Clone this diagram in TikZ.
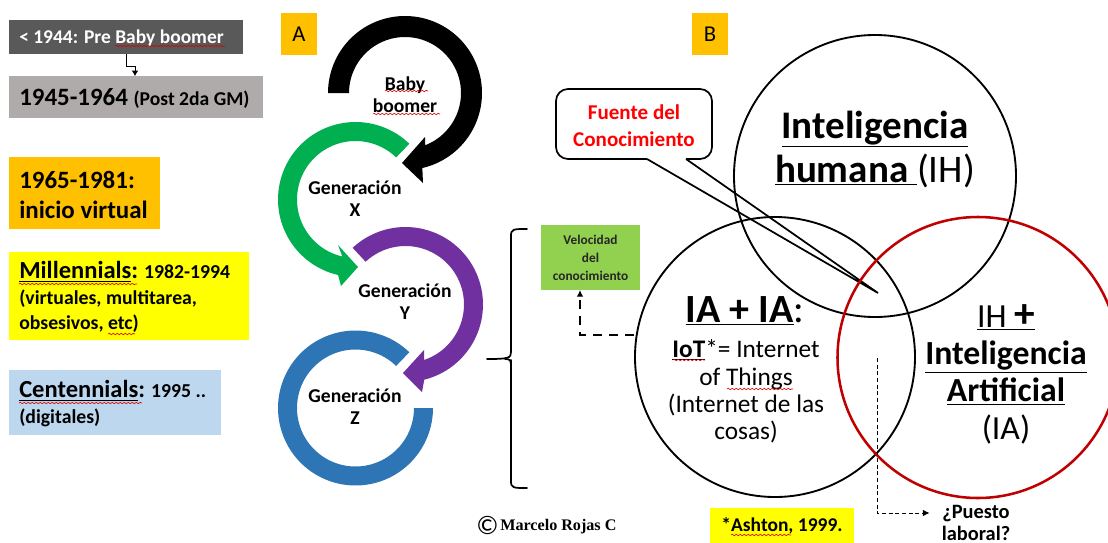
\documentclass[tikz,border=0pt]{standalone}
\usepackage{fontspec}
\setmainfont{Carlito}
\newfontfamily\serifb{Liberation Serif}
\usetikzlibrary{arrows.meta,decorations.pathmorphing,calc}
\definecolor{gold}{HTML}{FFC000}
\definecolor{dgrey}{HTML}{595959}
\definecolor{lgrey}{HTML}{AFABAB}
\definecolor{lblue}{HTML}{BDD7EE}
\definecolor{lgreen}{HTML}{92D050}
\definecolor{cgreen}{HTML}{00B050}
\definecolor{cpurple}{HTML}{7030A0}
\definecolor{cblue}{HTML}{2E75B6}
\definecolor{dred}{HTML}{C00000}
\definecolor{pureyellow}{HTML}{FFFF00}
\definecolor{purered}{HTML}{FF0000}
\tikzset{
 lbl/.style={inner sep=0pt,align=center,font=\bfseries,text=black},
 box/.style={inner sep=0pt,outer sep=0pt,anchor=north west},
 wavy/.style={draw=purered!85!black,line width=.45pt,decorate,decoration={snake,amplitude=.55pt,segment length=3pt}},
 circ/.style={draw=black,line width=1.4pt,circle,inner sep=0pt,outer sep=0pt,minimum size=#1*.75pt},
 conn/.style={draw=black,line width=1pt},
}
% \ringarrow{colour}{cx}{cy}{router}{rinner}{from}{to}{middle path}
\newcommand{\ringarrow}[8]{\fill[#1] plot[domain=#6:#7,samples=70,smooth] ({#2+#4*cos(\x)},{#3+#4*sin(\x)}) #8 -- plot[domain=#7:#6,samples=70,smooth] ({#2+#5*cos(\x)},{#3+#5*sin(\x)}) -- cycle;}
\newcommand{\fs}[2]{\fontsize{#1}{#2}\selectfont}
\begin{document}
\begin{tikzpicture}[x=.75pt,y=-.75pt]
\useasboundingbox (0,0) rectangle (1108,543);
% left boxes
\node[box,fill=dgrey,minimum width=234*.75pt,minimum height=34*.75pt] (b1) at (9,20) {};
\node[lbl,anchor=west,text=white,font=\bfseries\fs{14.6}{16}] (t1) at (19,38.5) {< 1944: Pre Baby boomer};
\draw[wavy] (115,46) -- (225,46);
\node[box,fill=lgrey,minimum width=254*.75pt,minimum height=42*.75pt] (b2) at (9,76) {};
\node[lbl,anchor=west,font=\bfseries\fs{18.7}{20}] (t2) at (19,98) {1945-1964 {\fs{14.7}{16}(Post 2da GM)}};
\coordinate (c1) at (126,60);
\coordinate (c2) at (135,60);
\draw[conn,line width=.7pt,-{Latex[length=4pt,width=5pt]}] (b1.south -| c1) -- (126,66) -- (135,66) -- (b2.north -| c2);
\node[box,fill=gold,minimum width=151*.75pt,minimum height=72*.75pt] (b3) at (9,157) {};
\node[lbl,anchor=west,align=left,font=\bfseries\fs{18.7}{22.5}] (t3) at (19,195) {1965-1981:\\inicio virtual};
\node[box,fill=pureyellow,minimum width=240*.75pt,minimum height=88*.75pt] (b4) at (9,252) {};
\node[lbl,anchor=west,align=left,font=\bfseries\fs{14.8}{19}] (t4) at (19,297) {{\fs{18.4}{19}\underline{Millennials}:} 1982-1994\\(virtuales, multitarea,\\obsesivos, etc)};
\draw[wavy] (19,284) -- (137,284);
\draw[wavy] (108,334) -- (135,334);
\node[box,fill=lblue,minimum width=212*.75pt,minimum height=65*.75pt] (b5) at (9,370) {};
\node[lbl,anchor=west,align=left,font=\bfseries\fs{14.8}{19.5}] (t5) at (19,404) {{\fs{18.4}{19.5}\underline{Centennials}:} 1995 ..\\(digitales)};
\draw[wavy] (19,403) -- (142,403);
\node[box,fill=gold,minimum width=36*.75pt,minimum height=42*.75pt] (A) at (281,13) {};
\node[inner sep=0pt,font=\fs{17}{18}] at (A.center) {A};
\node[box,fill=gold,minimum width=36*.75pt,minimum height=42*.75pt] (B) at (692,13) {};
\node[inner sep=0pt,font=\fs{17}{18}] at (B.center) {B};
% rings
\ringarrow{black}{405}{93}{77}{56}{180}{437}{-- (423,183) -- (402,163) -- (425,137) -- (425,150)}
\ringarrow{cgreen}{355.5}{199.5}{77.5}{58.5}{314}{103}{-- (341,286) -- (358,267) -- (338,245) -- (342.3,256.5)}
\ringarrow{cpurple}{405.5}{304.5}{77.5}{58.5}{227}{436}{-- (422,392) -- (403,373) -- (424,350) -- (424,360)}
\ringarrow{cblue}{355.5}{408}{77.5}{58.5}{0}{314}{}
\node[lbl,font=\bfseries\fs{14.7}{16.5}] (g0) at (405,95) {Baby\\boomer};
\draw[wavy] (385,91) -- (428,91);
\draw[wavy] (373,114) -- (440,114);
\node[lbl,font=\bfseries\fs{14.7}{16.5}] (g1) at (355,199) {Generación\\X};
\node[lbl,font=\bfseries\fs{14.7}{16.5}] (g2) at (405,302) {Generación\\Y};
\node[lbl,font=\bfseries\fs{14.7}{16.5}] (g3) at (355,407) {Generación\\Z};
% bracket
\draw[black,line width=1.3pt,line cap=round] (527,229) .. controls (513,229) and (511,229) .. (511,236) -- (511,352) .. controls (511,358) and (509,359) .. (487,359);
\draw[black,line width=1.3pt,line cap=round] (511,366) .. controls (511,360) and (510,359) .. (505,359);
\draw[black,line width=1.3pt,line cap=round] (511,360) -- (511,481) .. controls (511,488) and (513,488) .. (527,488);
% green
\node[box,fill=lgreen,minimum width=99*.75pt,minimum height=65*.75pt] (vel) at (541,225) {};
\node[lbl,font=\bfseries\fs{10}{13.5},text=black!85] at (vel.center) {Velocidad\\del\\conocimiento};
% callout
\draw[black,line width=1.3pt,fill=white,rounded corners=9pt] (647,159) -- (556,159) -- (556,89) -- (712,89) -- (712,159) -- (686,159);
\coordinate (tip) at (878,293);
\draw[black,line width=1.3pt,fill=white] (647,159) -- (tip) -- (686,159);
\node[lbl,text=purered,font=\bfseries\fs{15.8}{20}] (fuente) at (634,126) {Fuente del\\Conocimiento};
% circles
\node[circ=282] (IH) at (875,176) {};
\node[circ=280] (IA) at (775,357) {};
\node[circ=281,draw=dred,line width=1.9pt] (IAR) at (978,357.5) {};
\coordinate (d1) at (634,335);
\coordinate (d2) at (580,335);
\draw[conn,dash pattern=on 7pt off 5pt,-{Latex[length=5pt,width=5pt]}] (d1) -- (d2) -- (vel.south -| d2);
% texts
\node[lbl,font=\bfseries\fs{29.3}{33}] (ih) at (875,149) {\underline{Inteligencia}\\[0pt]\underline{humana }{\fontseries{m}\selectfont (IH)}};
\node[lbl,font=\bfseries\fs{30}{32},anchor=center] (ia) at (745,311) {\underline{IA + IA}{\fontseries{m}\selectfont :}};
\node[lbl,font=\fs{19}{20.6},align=center] (iot) at (746,391.5) {{\bfseries\underline{IoT}}*= Internet\\of Things\\(Internet de las\\cosas)};
\draw[wavy] (673,360) -- (705,360);
\draw[wavy] (727,389) -- (793,389);
\node[lbl,font=\bfseries\fs{25.3}{28}] (ih2) at (1006,374) {\underline{{\fontseries{m}\selectfont IH }{\fs{31}{28}\textbf{+}}}\\\underline{Inteligencia}\\\underline{Artificial}\\[0pt]{\fontseries{m}\selectfont (IA)}};
% puesto
\coordinate (ds) at (877,358);
\node[lbl,font=\bfseries\fs{15.3}{16.5}] (pl) at (976,523) {¿Puesto\\laboral?};
\coordinate (d3) at (877,513);
\draw[conn,line width=.7pt,dash pattern=on 3pt off 2pt,-{Latex[length=5pt,width=5pt]}] (ds) -- (d3) -- ($(pl.west |- d3)+(-12,0)$);
\node[box,fill=pureyellow,minimum width=144*.75pt,minimum height=35*.75pt] (ash) at (710,508) {};
\node[lbl,font=\bfseries\fs{14.6}{16}] at (ash.center) {*Ashton, 1999.};
\draw[wavy] (731,535) -- (791,535);
\node[inner sep=0pt,anchor=west,font=\fs{20}{22}] (c) at (476,525) {©};
\node[inner sep=0pt,anchor=west,font=\serifb\bfseries\fs{12.1}{14}] (mr) at (500,527) {Marcelo Rojas C};
\end{tikzpicture}
\end{document}
